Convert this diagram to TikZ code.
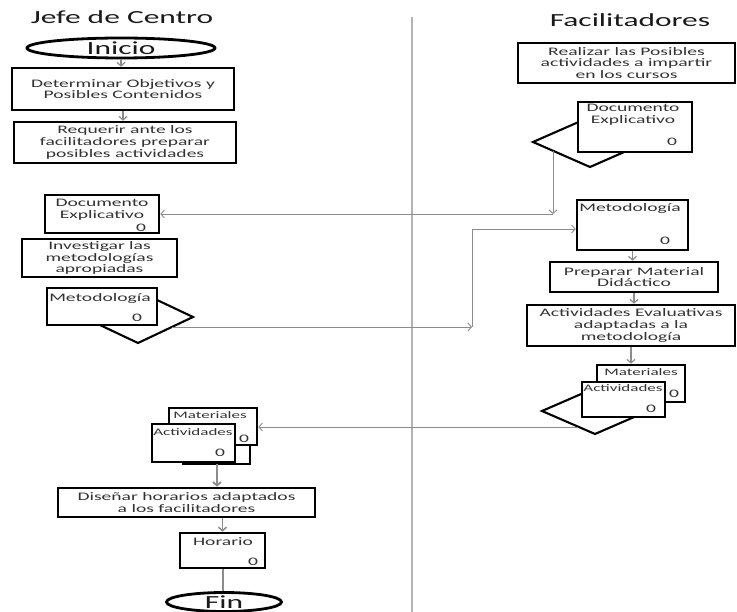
\documentclass[tikz,border=0pt]{standalone}
\usepackage{fontspec}
\setmainfont{Carlito}[FakeStretch=1.7]
\usetikzlibrary{arrows.meta,shapes.geometric}
\definecolor{connc}{HTML}{8C8C8C}
\definecolor{sepc}{HTML}{B4B4B4}
\definecolor{txtc}{HTML}{333333}
\definecolor{ttlc}{HTML}{1A1A1A}
\newcommand\fbody{\fontsize{11.5}{11.7}\selectfont}
\newcommand\fsmall{\fontsize{10}{10.5}\selectfont}
\newcommand\ftitle{\fontsize{18.5}{20}\selectfont}
\begin{document}
\begin{tikzpicture}[x=1pt,y=-1pt,
 proc/.style={draw=black, line width=2.6pt, fill=white, align=center, inner sep=0pt, font=\fbody, text=txtc},
 docbox/.style={draw=black, line width=2.6pt, fill=white, inner sep=0pt},
 doctext/.style={font=\fbody, text=txtc, align=center, inner sep=0pt},
 smalltext/.style={font=\fsmall, text=txtc, inner sep=0pt},
 zerolbl/.style={font=\fbody, text=txtc, inner sep=0pt},
 term/.style={ellipse, draw=black, line width=2.8pt, fill=white, inner sep=0pt, font=\ftitle, text=ttlc},
 dia/.style={draw=black, line width=2.1pt, line join=miter},
 conn/.style={draw=connc, line width=0.9pt, -{Straight Barb[length=3.5pt,width=8pt]}},
 link/.style={draw=connc, line width=0.9pt},
 lanetitle/.style={font=\ftitle, text=ttlc, inner sep=0pt, anchor=base},
]
\useasboundingbox (0,0) rectangle (737,612);
\clip (0,0) rectangle (737,612);
\fill[white] (0,0) rectangle (737,612);

% separator
\coordinate (septop) at (412,17);
\coordinate (sepbot) at (412,612);
\draw[sepc, line width=2pt] (septop) -- (sepbot);

% titles
\node[lanetitle] (tJefe) at (122,24) {Jefe de Centro};
\node[lanetitle] (tFac) at (630,27) {Facilitadores};

% ---------- left lane ----------
\node[term, minimum width=188, minimum height=20] (inicio) at (121,48) {Inicio};
\node[proc, minimum width=222, minimum height=42] (det) at (123,89) {Determinar Objetivos y\\Posibles Contenidos};
\node[proc, minimum width=222, minimum height=41] (req) at (125,142.5) {Requerir ante los\\facilitadores preparar\\posibles actividades};

\node[docbox, minimum width=114, minimum height=38] (docL) at (102,214) {};
\node[doctext] (docLt) at (102,209.5) {Documento\\Explicativo};
\node[zerolbl] (docL0) at (141,228) {0};

\node[proc, minimum width=155, minimum height=38] (inv) at (99.5,258) {Investigar las\\metodologías\\apropiadas};

\draw[dia] (83,317) -- (138,291) -- (193,317) -- (138,343) -- cycle;
\node[docbox, minimum width=110, minimum height=37] (metL) at (102,306.5) {};
\node[doctext] (metLt) at (100,298) {Metodología};
\node[zerolbl] (metL0) at (137,318) {0};

\node[docbox, minimum width=67, minimum height=34] (thirdL) at (216.5,447) {};
\node[docbox, minimum width=88, minimum height=37] (matL) at (213,426.5) {};
\node[smalltext] (matLt) at (210,415) {Materiales};
\node[zerolbl] (matL0) at (244,439) {0};
\node[docbox, minimum width=83, minimum height=38] (actL) at (193.5,443) {};
\node[smalltext] (actLt) at (193,432) {Actividades};
\node[zerolbl] (actL0) at (220,453) {0};

\node[proc, minimum width=257, minimum height=29] (dis) at (186.5,502.5) {Diseñar horarios adaptados\\a los facilitadores};

\node[docbox, minimum width=85, minimum height=35] (hor) at (222.5,550.5) {};
\node[doctext] (hort) at (223,542) {Horario};
\node[zerolbl] (hor0) at (253,562) {0};

\node[term, minimum width=115, minimum height=19] (fin) at (224,602) {Fin};

% ---------- right lane ----------
\node[proc, minimum width=217, minimum height=40] (rea) at (626.5,63) {Realizar las Posibles\\actividades a impartir\\en los cursos};

\draw[dia] (533,142) -- (590,117) -- (647,142) -- (590,167) -- cycle;
\node[docbox, minimum width=114, minimum height=50] (docR) at (635,127) {};
\node[doctext] (docRt) at (633,114.5) {Documento\\Explicativo};
\node[zerolbl] (docR0) at (672,142) {0};

\node[docbox, minimum width=111, minimum height=50] (metR) at (632.5,225) {};
\node[doctext] (metRt) at (630,208) {Metodología};
\node[zerolbl] (metR0) at (665,241) {0};

\node[proc, minimum width=168, minimum height=30] (prep) at (634,277) {Preparar Material\\Didáctico};
\node[proc, minimum width=208, minimum height=41] (actE) at (631,325.5) {Actividades Evaluativas\\adaptadas a la\\metodología};

\draw[dia] (542,411) -- (595,388) -- (648,411) -- (595,434) -- cycle;
\node[docbox, minimum width=88, minimum height=37] (matR) at (641,383.5) {};
\node[smalltext] (matRt) at (641,372) {Materiales};
\node[zerolbl] (matR0) at (674,394) {0};
\node[docbox, minimum width=83, minimum height=35] (actR) at (623.5,399.5) {};
\node[smalltext] (actRt) at (623,388) {Actividades};
\node[zerolbl] (actR0) at (651,409) {0};

% ---------- connectors ----------
\draw[conn, line width=1.2pt] (inicio.south) -- (inicio.south |- det.north);
\draw[conn, line width=1.2pt] (det.south) -- (det.south |- req.north);

\coordinate (dRout) at (553,151);
\coordinate (dRturn) at (553,214);
\draw[conn] (dRout) -- (dRturn);
\draw[conn] (dRturn) -- (dRturn -| docL.east);

\coordinate (mLout) at (172,327);
\coordinate (mLturn) at (472,327);
\coordinate (mLup) at (472,229);
\draw[conn] (mLout) -- (mLturn);
\draw[link] (mLturn) -- (mLup);
\draw[conn] (mLup) -- (mLup -| metR.west);

\draw[conn, line width=1.2pt] (metR.south) -- (metR.south |- prep.north);
\draw[conn, line width=1.2pt] (prep.south) -- (prep.south |- actE.north);
\draw[conn, line width=1.2pt] (actE.south) -- (actE.south |- matR.north);

\coordinate (sRout) at (578,427);
\draw[conn] (sRout) -- (sRout -| matL.east);

\coordinate (sLout) at (217,464);
\draw[conn, line width=1.8pt] (sLout) -- (sLout |- dis.north);
\draw[conn, line width=1.5pt] (dis.south -| hor.north) -- (hor.north);
\draw[link, line width=2pt] (hor.south) -- (hor.south |- fin.north);
\end{tikzpicture}
\end{document}
